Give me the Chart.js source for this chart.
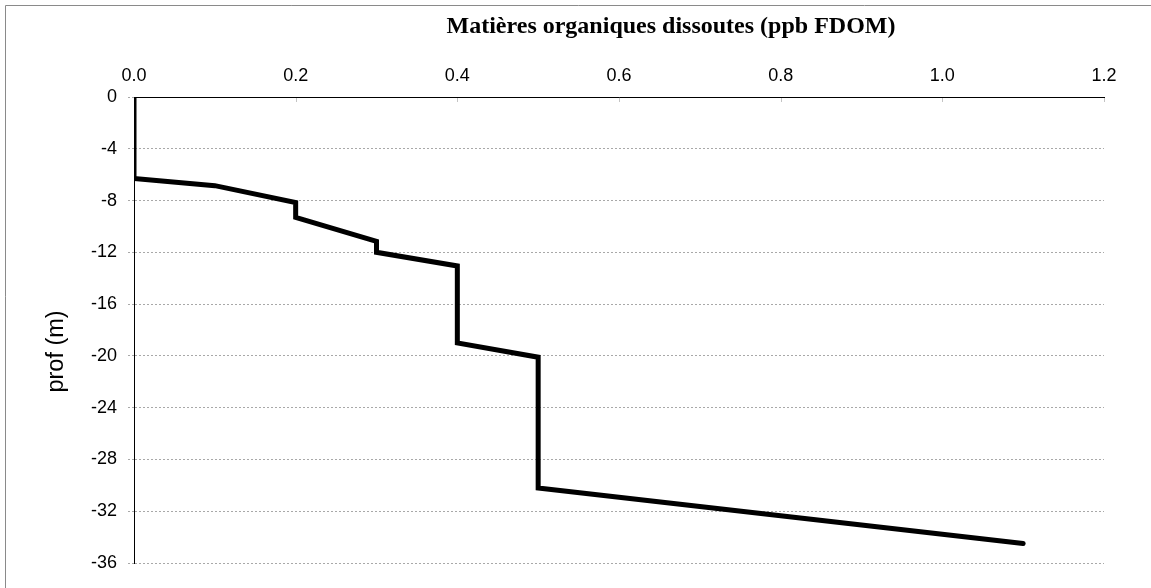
<!DOCTYPE html>
<html>
<head>
<meta charset="utf-8">
<script src="https://cdn.jsdelivr.net/npm/chart.js@4"></script>
<style>
  html, body { margin: 0; padding: 0; background: #fff; }
  #wrap { width: 1151px; height: 588px; position: relative; }
</style>
</head>
<body>
<div id="wrap"><canvas id="c" width="1151" height="588"></canvas></div>
<script>
// Profil vertical : FDOM (ppb) en fonction de la profondeur (m)
const fdom  = [0, 0, 0.1, 0.2, 0.2, 0.3, 0.3, 0.4, 0.4, 0.5, 0.5, 1.1];
const depth = [0, -6.3, -6.85, -8.15, -9.3, -11.15, -12.0, -13.05, -19.0, -20.1, -30.2, -34.5];
const xTicks = [0, 0.2, 0.4, 0.6, 0.8, 1.0, 1.2];
const yTicks = [0, -4, -8, -12, -16, -20, -24, -28, -32, -36];
const titleText = 'Matières organiques dissoutes (ppb FDOM)';
const yTitleText = 'prof (m)';

const points = fdom.map((v, i) => ({ x: v, y: depth[i] }));

const decor = {
  id: 'decor',
  beforeDraw(chart) {
    const ctx = chart.ctx;
    ctx.save();
    // cadre extérieur
    ctx.strokeStyle = '#8a8a8a';
    ctx.lineWidth = 1;
    ctx.beginPath();
    ctx.moveTo(5.5, 588);
    ctx.lineTo(5.5, 5.5);
    ctx.lineTo(1151, 5.5);
    ctx.stroke();
    ctx.restore();
  },
  afterDraw(chart) {
    const ctx = chart.ctx;
    const a = chart.chartArea;
    const xs = chart.scales.x;
    ctx.save();
    // petites graduations vers l'intérieur sous l'axe du haut
    ctx.strokeStyle = '#c4c4c4';
    ctx.lineWidth = 1;
    xs.ticks.forEach(t => {
      if (t.value === 0) return;
      const px = Math.round(xs.getPixelForValue(t.value)) + 0.5;
      ctx.beginPath();
      ctx.moveTo(px, a.top + 1);
      ctx.lineTo(px, a.top + 5);
      ctx.stroke();
    });
    // titre
    ctx.fillStyle = '#000';
    ctx.font = 'bold 24px "Liberation Serif", "Times New Roman", serif';
    ctx.textAlign = 'center';
    ctx.textBaseline = 'alphabetic';
    ctx.fillText(titleText, a.left + (a.right - a.left) * 0.5536, 33);
    // titre de l'axe vertical
    ctx.font = '23.5px "Liberation Sans", Arial, sans-serif';
    ctx.translate(57, a.top + (a.bottom - a.top) * 0.546);
    ctx.rotate(-Math.PI / 2);
    ctx.textBaseline = 'middle';
    ctx.fillText(yTitleText, 0, 0);
    ctx.restore();
  }
};

new Chart(document.getElementById('c'), {
  type: 'scatter',
  data: {
    datasets: [{
      data: points,
      showLine: true,
      borderColor: '#000',
      borderWidth: 5,
      borderJoinStyle: 'miter',
      borderCapStyle: 'round',
      pointRadius: 0,
      pointHoverRadius: 0,
      tension: 0
    }]
  },
  plugins: [decor],
  options: {
    responsive: false,
    animation: false,
    layout: { padding: { left: 0, top: 0, right: 47, bottom: 25 } },
    plugins: {
      legend: { display: false },
      tooltip: { enabled: false },
      title: { display: false }
    },
    scales: {
      x: {
        type: 'linear',
        position: 'top',
        min: 0,
        max: 1.2,
        afterBuildTicks: s => { s.ticks = xTicks.map(v => ({ value: v })); },
        afterFit: s => { s.height = 97; },
        ticks: {
          padding: 10,
          color: '#000',
          font: { family: 'Liberation Sans', size: 18 },
          callback: v => Number(v).toFixed(1)
        },
        grid: { display: false, drawTicks: false },
        border: { display: true, color: '#000', width: 1 }
      },
      y: {
        type: 'linear',
        position: 'left',
        min: -36,
        max: 0,
        afterBuildTicks: s => { s.ticks = yTicks.map(v => ({ value: v })); },
        afterFit: s => { s.width = 134; },
        ticks: {
          padding: 11,
          color: '#000',
          font: { family: 'Liberation Sans', size: 18 },
          callback: v => String(v)
        },
        grid: {
          color: '#a8a8a8',
          lineWidth: 1,
          drawTicks: true,
          tickLength: 6,
          tickColor: '#a8a8a8',
          tickBorderDash: [2, 2]
        },
        border: { display: true, color: '#000', width: 1, dash: [2, 2] }
      }
    }
  }
});
</script>
</body>
</html>
